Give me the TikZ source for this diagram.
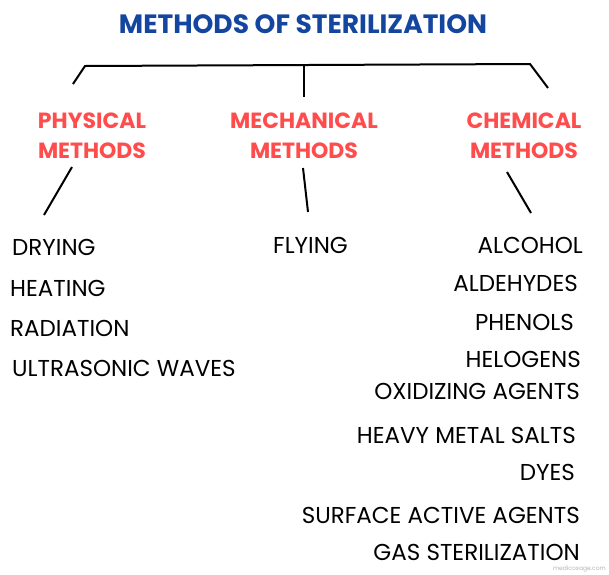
\documentclass[tikz,border=0pt]{standalone}
\usepackage{fontspec}
\setmainfont{Poppins}
\begin{document}
\begin{tikzpicture}[x=1pt,y=-1pt,
  blk/.style={font=\fontsize{23}{26}\selectfont,inner sep=0pt},
  red/.style={font=\fontsize{22}{30}\bfseries\selectfont,text=red!70!white,align=center,inner sep=0pt},
  ln/.style={line width=2pt,black}]
\useasboundingbox (0,0) rectangle (609,574);
\node[font=\fontsize{26.5}{30}\bfseries\selectfont,text={rgb,255:red,20;green,70;blue,160},inner sep=0pt] (title) at (303,24) {METHODS OF STERILIZATION};
\coordinate (hl) at (85,66); \coordinate (hr) at (530,64); \coordinate (hm) at (304,65);
\coordinate (pl) at (73,84); \coordinate (mb) at (304,97); \coordinate (cr) at (548,88);
\draw[ln] (pl) -- (hl) -- (hr) -- (cr);
\draw[ln] (hm) -- (mb);
\node[red] (phys) at (92,136) {PHYSICAL\\METHODS};
\node[red] (mech) at (304,136) {MECHANICAL\\METHODS};
\node[red] (chem) at (524,136) {CHEMICAL\\METHODS};
\coordinate (p1) at (72,167); \coordinate (p2) at (44,215);
\coordinate (m1) at (303,168); \coordinate (m2) at (308,212);
\coordinate (c1) at (507,172); \coordinate (c2) at (531,213);
\draw[ln] (p1) -- (p2); \draw[ln] (m1) -- (m2); \draw[ln] (c1) -- (c2);
\node[blk,anchor=west] (d1) at (12,247) {DRYING};
\node[blk,anchor=west] (d2) at (10,288) {HEATING};
\node[blk,anchor=west] (d3) at (10,328) {RADIATION};
\node[blk,anchor=west] (d4) at (12,368) {ULTRASONIC WAVES};
\node[blk,anchor=west] (f1) at (273,245) {FLYING};
\node[blk,anchor=east] (c01) at (583,245) {ALCOHOL};
\node[blk,anchor=east] (c02) at (578,283) {ALDEHYDES};
\node[blk,anchor=east] (c03) at (574,322) {PHENOLS};
\node[blk,anchor=east] (c04) at (581,359) {HELOGENS};
\node[blk,anchor=east] (c05) at (580,391) {OXIDIZING AGENTS};
\node[blk,anchor=east] (c06) at (576,435) {HEAVY METAL SALTS};
\node[blk,anchor=east] (c07) at (575,472) {DYES};
\node[blk,anchor=east] (c08) at (580,515) {SURFACE ACTIVE AGENTS};
\node[blk,anchor=east] (c09) at (580,552) {GAS STERILIZATION};
\node[font=\fontsize{6}{7}\selectfont,text=gray!60,anchor=east,inner sep=0pt] (wm) at (606,569) {medicosage.com};
\end{tikzpicture}
\end{document}
